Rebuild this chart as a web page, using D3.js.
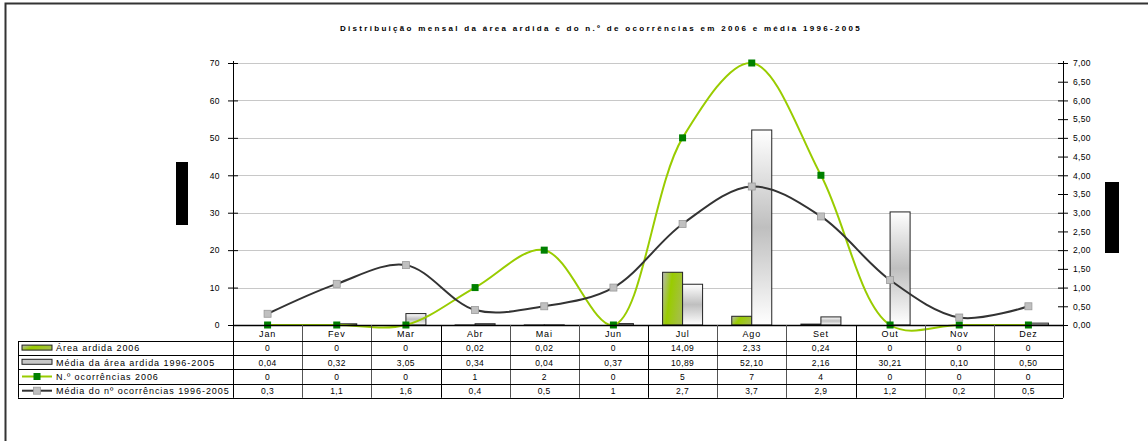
<!DOCTYPE html>
<html>
<head>
<meta charset="utf-8">
<script src="https://cdn.jsdelivr.net/npm/d3@7"></script>
<style>
  body { margin: 0; background: #fff; }
  svg { display: block; font-family: "Liberation Sans", Arial, sans-serif; }
</style>
</head>
<body>
<svg width="1148" height="441"></svg>
<script>
let months = ['Jan', 'Fev', 'Mar', 'Abr', 'Mai', 'Jun', 'Jul', 'Ago', 'Set', 'Out', 'Nov', 'Dez'];
let area2006 = [0, 0, 0, 0.02, 0.02, 0, 14.09, 2.33, 0.24, 0, 0, 0];
let areaMedia = [0.04, 0.32, 3.05, 0.34, 0.04, 0.37, 10.89, 52.1, 2.16, 30.21, 0.1, 0.5];
let ocor2006 = [0, 0, 0, 1, 2, 0, 5, 7, 4, 0, 0, 0];
let ocorMedia = [0.3, 1.1, 1.6, 0.4, 0.5, 1, 2.7, 3.7, 2.9, 1.2, 0.2, 0.5];
let leftTicks = [0, 10, 20, 30, 40, 50, 60, 70];
let rightTicks = [0, 0.5, 1, 1.5, 2, 2.5, 3, 3.5, 4, 4.5, 5, 5.5, 6, 6.5, 7];
let seriesNames = ['Área ardida 2006', 'Média da área ardida 1996-2005', 'N.º ocorrências 2006', 'Média do nº ocorrências 1996-2005'];

let plotL = 233, plotR = 1063, plotT = 63, plotB = 325;
let rowH = 14.2, headH = 16;
let legendX = 18;

let svg = d3.select('svg');

let x = d3.scaleBand().domain(months).range([plotL, plotR]);
let y = d3.scaleLinear().domain([0, 70]).range([plotB, plotT]);
let y2 = d3.scaleLinear().domain([0, 7]).range([plotB, plotT]);

let comma = (s) => s.replace('.', ',');
let fmtArea = (v) => (v === 0 ? '0' : comma(d3.format('.2f')(v)));
let fmtOcor = (v) => comma(String(v));

// gradients
let defs = svg.append('defs');
let gGreen = defs.append('linearGradient').attr('id', 'gGreen')
  .attr('x1', '0').attr('y1', '0').attr('x2', '1').attr('y2', '0.35');
gGreen.append('stop').attr('offset', '0').attr('stop-color', '#b8b8b8');
gGreen.append('stop').attr('offset', '0.45').attr('stop-color', '#99cc00');
gGreen.append('stop').attr('offset', '1').attr('stop-color', '#a4c040');
let gGray = defs.append('linearGradient').attr('id', 'gGray')
  .attr('x1', '0').attr('y1', '0').attr('x2', '0').attr('y2', '1');
gGray.append('stop').attr('offset', '0').attr('stop-color', '#ffffff');
gGray.append('stop').attr('offset', '0.5').attr('stop-color', '#bfbfbf');
gGray.append('stop').attr('offset', '1').attr('stop-color', '#ffffff');

// frame
svg.append('path').attr('d', 'M5.5,441V3.5H1148').attr('fill', 'none')
  .attr('stroke', '#333').attr('stroke-width', 2);

// title
svg.append('text').attr('x', 601).attr('y', 31).attr('text-anchor', 'middle')
  .attr('font-size', 8).attr('font-weight', 'bold').attr('letter-spacing', 2.3)
  .text('Distribuição mensal da área ardida e do n.º de ocorrências em 2006 e média 1996-2005');

// gridlines
svg.append('g').selectAll('line').data(leftTicks.slice(1)).enter().append('line')
  .attr('x1', plotL).attr('x2', plotR)
  .attr('y1', (d) => Math.round(y(d)) + 0.5).attr('y2', (d) => Math.round(y(d)) + 0.5)
  .attr('stroke', '#c8c8c8');

// bars
let bw = 20;
let bars = svg.append('g');
bars.selectAll('.b1').data(area2006).enter().append('rect')
  .attr('x', (d, i) => x(months[i]) + x.bandwidth() / 2 - bw)
  .attr('y', (d) => y(d)).attr('width', bw).attr('height', (d) => plotB - y(d))
  .attr('fill', 'url(#gGreen)').attr('stroke', '#222').attr('stroke-width', 1);
bars.selectAll('.b2').data(areaMedia).enter().append('rect')
  .attr('x', (d, i) => x(months[i]) + x.bandwidth() / 2)
  .attr('y', (d) => y(d)).attr('width', bw).attr('height', (d) => plotB - y(d))
  .attr('fill', 'url(#gGray)').attr('stroke', '#222').attr('stroke-width', 1);

// left axis
let la = svg.append('g').attr('transform', `translate(${plotL},0)`)
  .call(d3.axisLeft(y).tickValues(leftTicks).tickSize(5).tickPadding(8));
la.select('.domain').remove();
la.append('line').attr('x1', 0.5).attr('x2', 0.5).attr('y1', plotT - 2).attr('y2', plotB).attr('stroke', '#000');
la.selectAll('.tick line').attr('x2', 5).attr('x1', -5).attr('stroke', '#000');
la.selectAll('.tick text').attr('font-size', 8.5).attr('letter-spacing', 0.4)
  .attr('font-family', '"Liberation Sans", Arial, sans-serif').attr('fill', '#000');

// right axis
let ra = svg.append('g').attr('transform', `translate(${plotR},0)`)
  .call(d3.axisRight(y2).tickValues(rightTicks).tickSize(5).tickPadding(5)
    .tickFormat((d) => comma(d3.format('.2f')(d))));
ra.select('.domain').remove();
ra.append('line').attr('x1', 0.5).attr('x2', 0.5).attr('y1', plotT - 2).attr('y2', plotB + 13).attr('stroke', '#000');
ra.selectAll('.tick line').attr('x1', -5).attr('x2', 5).attr('stroke', '#000');
ra.selectAll('.tick text').attr('font-size', 8.5).attr('letter-spacing', 0.3)
  .attr('font-family', '"Liberation Sans", Arial, sans-serif').attr('fill', '#000');

// lines
let cx = (i) => x(months[i]) + x.bandwidth() / 2;
let line = d3.line().x((d, i) => cx(i)).y((d) => y2(d)).curve(d3.curveCatmullRom.alpha(0.5));
svg.append('path').datum(ocor2006).attr('d', line).attr('fill', 'none')
  .attr('stroke', '#99cc00').attr('stroke-width', 2);
svg.append('path').datum(ocorMedia).attr('d', line).attr('fill', 'none')
  .attr('stroke', '#333').attr('stroke-width', 2);
svg.append('g').selectAll('rect').data(ocor2006).enter().append('rect')
  .attr('x', (d, i) => cx(i) - 3.5).attr('y', (d) => y2(d) - 3.5)
  .attr('width', 7).attr('height', 7).attr('fill', '#008000');
svg.append('g').selectAll('rect').data(ocorMedia).enter().append('rect')
  .attr('x', (d, i) => cx(i) - 3.5).attr('y', (d) => y2(d) - 3.5)
  .attr('width', 7).attr('height', 7).attr('fill', '#c0c0c0').attr('stroke', '#999').attr('stroke-width', 0.8);

// x axis line
svg.append('line').attr('x1', plotL).attr('x2', plotR).attr('y1', plotB + 0.5).attr('y2', plotB + 0.5)
  .attr('stroke', '#000').attr('stroke-width', 1.5);

// data table
let tbl = svg.append('g');
let tableBottom = plotB + headH + rowH * 4;
tbl.selectAll('.v').data(d3.range(13)).enter().append('line')
  .attr('x1', (d) => Math.round(plotL + d * x.step()) + 0.5)
  .attr('x2', (d) => Math.round(plotL + d * x.step()) + 0.5)
  .attr('y1', plotB).attr('y2', tableBottom).attr('stroke', (d) => (d % 3 === 0 ? '#000' : '#555'));
tbl.selectAll('.h').data(d3.range(5)).enter().append('line')
  .attr('x1', legendX).attr('x2', plotR)
  .attr('y1', (d) => Math.round(plotB + headH + d * rowH) + 0.5)
  .attr('y2', (d) => Math.round(plotB + headH + d * rowH) + 0.5)
  .attr('stroke', '#000');
tbl.append('line').attr('x1', legendX + 0.5).attr('x2', legendX + 0.5)
  .attr('y1', plotB + headH).attr('y2', tableBottom).attr('stroke', '#000');

tbl.selectAll('.m').data(months).enter().append('text')
  .attr('x', (d) => x(d) + x.bandwidth() / 2).attr('y', plotB + 11.5)
  .attr('text-anchor', 'middle').attr('font-size', 9).attr('letter-spacing', 0.8).text((d) => d);

let rows = [area2006.map(fmtArea), areaMedia.map(fmtArea), ocor2006.map(fmtOcor), ocorMedia.map(fmtOcor)];
rows.forEach((r, ri) => {
  let ry = plotB + headH + ri * rowH + rowH / 2 + 3.2;
  tbl.selectAll('.r' + ri).data(r).enter().append('text')
    .attr('x', (d, i) => cx(i)).attr('y', ry)
    .attr('text-anchor', 'middle').attr('font-size', 8.5).attr('letter-spacing', 0.4).text((d) => d);
  tbl.append('text').attr('x', legendX + 38).attr('y', ry)
    .attr('font-size', 9).attr('letter-spacing', 0.95).text(seriesNames[ri]);
});

// legend keys
let ky = (ri) => plotB + headH + ri * rowH + rowH / 2;
tbl.append('rect').attr('x', legendX + 4).attr('y', ky(0) - 3).attr('width', 30).attr('height', 5)
  .attr('fill', 'url(#gGreen)').attr('stroke', '#222');
tbl.append('rect').attr('x', legendX + 4).attr('y', ky(1) - 3).attr('width', 30).attr('height', 5)
  .attr('fill', '#c8c8c8').attr('stroke', '#222');
tbl.append('line').attr('x1', legendX + 4).attr('x2', legendX + 34).attr('y1', ky(2)).attr('y2', ky(2))
  .attr('stroke', '#99cc00').attr('stroke-width', 2);
tbl.append('rect').attr('x', legendX + 15.5).attr('y', ky(2) - 3.5).attr('width', 7).attr('height', 7).attr('fill', '#008000');
tbl.append('line').attr('x1', legendX + 4).attr('x2', legendX + 34).attr('y1', ky(3)).attr('y2', ky(3))
  .attr('stroke', '#333').attr('stroke-width', 2);
tbl.append('rect').attr('x', legendX + 15.5).attr('y', ky(3) - 3.5).attr('width', 7).attr('height', 7)
  .attr('fill', '#c0c0c0').attr('stroke', '#999').attr('stroke-width', 0.8);

// black boxes (redacted axis titles)
svg.append('rect').attr('x', 176).attr('y', 162).attr('width', 12).attr('height', 63).attr('fill', '#000');
svg.append('rect').attr('x', 1105).attr('y', 182).attr('width', 14).attr('height', 71).attr('fill', '#000');
</script>
</body>
</html>
